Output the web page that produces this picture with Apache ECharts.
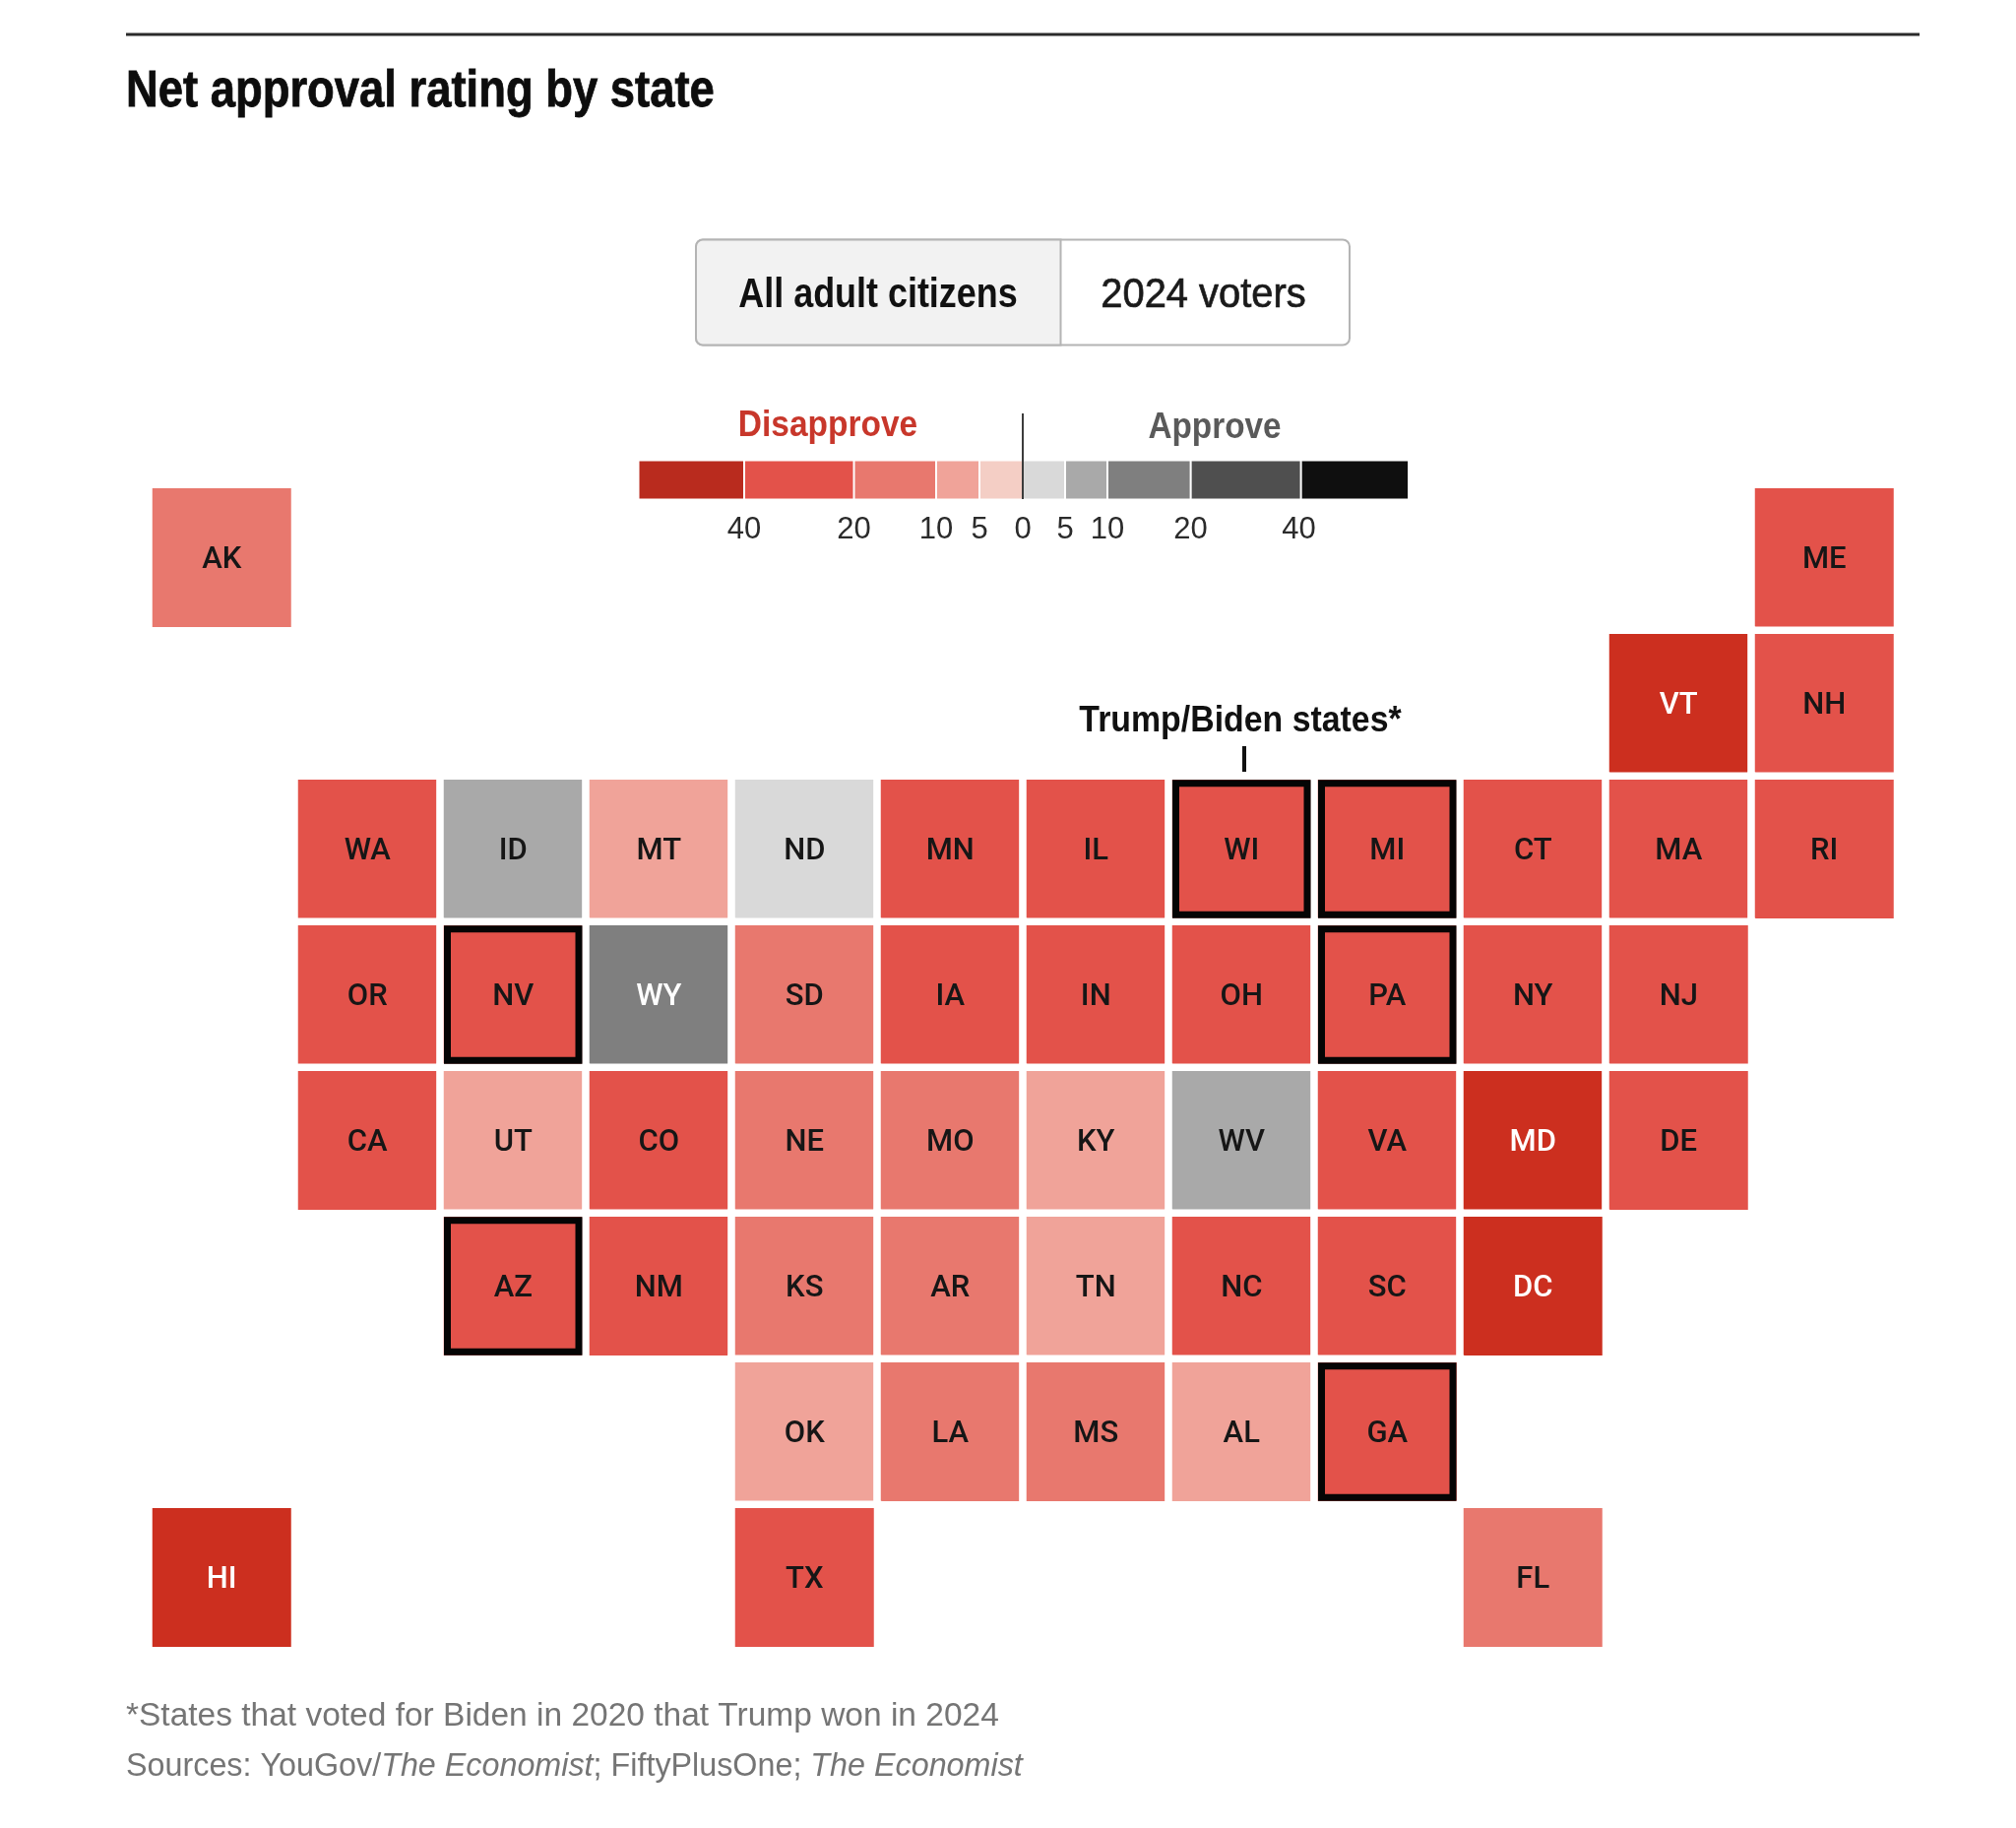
<!DOCTYPE html>
<html><head><meta charset="utf-8">
<style>html,body{margin:0;padding:0;background:#fff}#c{width:2048px;height:1857px}</style>
<script src="https://cdn.jsdelivr.net/npm/echarts@6/dist/echarts.min.js"></script>
</head><body><div id="c"></div>
<script>
const titleText = 'Net approval rating by state';
const toggleLabels = ['All adult citizens', '2024 voters'];
const footnote = '*States that voted for Biden in 2020 that Trump won in 2024';
const annotation = 'Trump/Biden states*';

const states      = ['AK','ME','VT','NH','WA','ID','MT','ND','MN','IL','WI','MI','CT','MA','RI','OR','NV','WY','SD','IA','IN','OH','PA','NY','NJ','CA','UT','CO','NE','MO','KY','WV','VA','MD','DE','AZ','NM','KS','AR','TN','NC','SC','DC','OK','LA','MS','AL','GA','HI','TX','FL'];
const stateCol    = [0,11,10,11,1,2,3,4,5,6,7,8,9,10,11,1,2,3,4,5,6,7,8,9,10,1,2,3,4,5,6,7,8,9,10,2,3,4,5,6,7,8,9,4,5,6,7,8,0,4,9];
const stateRow    = [0,0,1,1,2,2,2,2,2,2,2,2,2,2,2,3,3,3,3,3,3,3,3,3,3,4,4,4,4,4,4,4,4,4,4,5,5,5,5,5,5,5,5,6,6,6,6,6,7,7,7];
const netApproval = [-15,-25,-45,-25,-27,7,-8,3,-25,-28,-24,-24,-28,-30,-28,-28,-22,15,-14,-22,-21,-22,-23,-29,-26,-32,-8,-27,-16,-17,-9,8,-25,-42,-27,-23,-25,-16,-15,-9,-24,-21,-50,-9,-14,-14,-8,-24,-44,-22,-16];
const flipStates  = ['NV','WI','MI','PA','AZ','GA'];

const binEdges  = [-100,-40,-20,-10,-5,0,5,10,20,40,100];
const binColors = ['#cc2f1f','#e3524a','#e8786e','#f0a399','#f4cec5','#d9d9d9','#a9a9a9','#7f7f7f','#4f4f4f','#0f0f0f'];
const legendBandColors = ['#f4cec5','#f0a399','#e8786e','#e3524a','#b92b1e','#d9d9d9','#a9a9a9','#7f7f7f','#4f4f4f','#0f0f0f'];
const legendBandSpans  = [-44,-44,-83.5,-111.5,-107.5,43,43,84.6,112,109.5];
const legendTickPlaces = [-283,-171.5,-88,-44,0,43,86,170.6,280.5];
const legendTickLabels = ['40','20','10','5','0','5','10','20','40'];

const narrow = '"Liberation Sans",sans-serif';
const columns = Array.from({length:12},(_,i)=>String(i));
const rows = Array.from({length:8},(_,i)=>String(i));

const heatData = states.map((s,i)=>({
  name:s,
  value:[stateCol[i],stateRow[i],netApproval[i]],
  label:{color:(netApproval[i]<=-40||netApproval[i]>=10)?'#ffffff':'#161616'}
}));
const flipData = flipStates.map(s=>{const i=states.indexOf(s);return [stateCol[i],stateRow[i]];});

const bandSeries = legendBandSpans.map((w,i)=>({
  type:'bar',xAxisIndex:1,yAxisIndex:1,stack:'legend',barWidth:40,silent:true,
  data:[w],itemStyle:{color:legendBandColors[i],borderColor:'#fff',borderWidth:1},
  z:3
}));

function T(x,y,text,font,fill,scaleX,align,weightStroke){
  return {type:'text',x:x,y:y,scaleX:scaleX,style:{x:0,y:0,text:text,align:align||'left',verticalAlign:'middle',font:font,fill:fill,
    stroke:weightStroke?fill:null,lineWidth:weightStroke||0}};
}

const chart = echarts.init(document.getElementById('c'),null,{renderer:'canvas'});
chart.setOption({
  animation:false,
  backgroundColor:'#fff',
  textStyle:{fontFamily:narrow},
  grid:[
    {left:151.25,top:492.5,width:1776,height:1184,containLabel:false},
    {left:648.5,top:468,width:782.5,height:39}
  ],
  xAxis:[
    {type:'category',gridIndex:0,data:columns,show:false},
    {type:'value',gridIndex:1,min:-390.5,max:392,splitLine:{show:false},
     axisLine:{show:false},axisTick:{show:false},
     axisLabel:{show:true,margin:16,color:'#2b2b2b',fontSize:31,fontFamily:narrow,showMinLabel:true,showMaxLabel:true,
       customValues:legendTickPlaces,
       formatter:(v)=>legendTickLabels[legendTickPlaces.indexOf(v)]}}
  ],
  yAxis:[
    {type:'category',gridIndex:0,data:rows,inverse:true,show:false},
    {type:'category',gridIndex:1,data:['band'],show:false}
  ],
  visualMap:{
    type:'piecewise',show:false,seriesIndex:0,dimension:2,
    pieces:binColors.map((c,i)=>({gte:binEdges[i],lt:binEdges[i+1],color:c}))
  },
  series:[
    {type:'heatmap',xAxisIndex:0,yAxisIndex:0,data:heatData,silent:true,
     itemStyle:{borderColor:'#fff',borderWidth:7.5},
     label:{show:true,formatter:p=>p.name,fontFamily:'Roboto,"Liberation Sans",sans-serif',fontSize:31,fontWeight:500,offset:[0,2.5]}},
    {type:'scatter',xAxisIndex:0,yAxisIndex:0,data:flipData,symbol:'rect',symbolSize:133.5,silent:true,
     itemStyle:{color:'transparent',borderColor:'#050505',borderWidth:7,opacity:1},z:5},
    ...bandSeries
  ],
  graphic:[
    {type:'line',shape:{x1:128,y1:35,x2:1950,y2:35},style:{stroke:'#2a2a2a',lineWidth:3}},
    T(128,94,titleText,'bold 51px '+narrow,'#0d0d0d',0.89,'left',0.8),
    {type:'rect',shape:{x:707,y:243.5,width:664,height:107,r:7},style:{fill:'#fff',stroke:'#b4b4b4',lineWidth:2}},
    {type:'rect',shape:{x:707,y:243.5,width:370.5,height:107,r:[7,0,0,7]},style:{fill:'#f2f2f2',stroke:'#b4b4b4',lineWidth:2}},
    T(892,300,toggleLabels[0],'bold 42px '+narrow,'#111',0.855,'center'),
    T(1222.5,300,toggleLabels[1],'42px '+narrow,'#1a1a1a',0.95,'center',0.7),
    T(841,433,'Disapprove','bold 37px '+narrow,'#c8372b',0.905,'center'),
    T(1234,435,'Approve','bold 37px '+narrow,'#5a5a5a',0.9,'center'),
    T(1260,733,annotation,'bold 37px '+narrow,'#111',0.915,'center'),
    {type:'line',shape:{x1:1264,y1:758,x2:1264,y2:784},style:{stroke:'#111',lineWidth:4}},
    {type:'line',shape:{x1:1039,y1:420,x2:1039,y2:507},style:{stroke:'#3c3c3c',lineWidth:2},z:10},
    T(128,1744,footnote,'34px '+narrow,'#757575',0.985),
    {type:'text',x:128,y:1795,scaleX:0.95,style:{x:0,y:0,verticalAlign:'middle',
      text:'{r|Sources: YouGov/}{i|The Economist}{r|; FiftyPlusOne; }{i|The Economist}',
      rich:{r:{font:'34px '+narrow,fill:'#757575'},i:{font:'italic 34px '+narrow,fill:'#757575'}}}}
  ]
});
</script></body></html>
